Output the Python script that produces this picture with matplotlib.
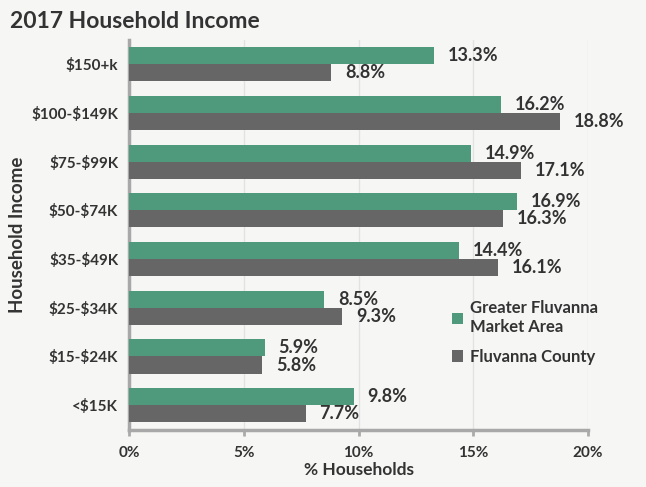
import matplotlib

matplotlib.use("Agg")
import matplotlib.pyplot as plt
import numpy as np

categorias = ["$150+k", "$100-$149K", "$75-$99K", "$50-$74K",
              "$35-$49K", "$25-$34K", "$15-$24K", "<$15K"]
mercado = [13.3, 16.2, 14.9, 16.9, 14.4, 8.5, 5.9, 9.8]
condado = [8.8, 18.8, 17.1, 16.3, 16.1, 9.3, 5.8, 7.7]
ticks_x = [0, 5, 10, 15, 20]

VERDE = "#4f9a7c"
CINZA = "#666666"
TEXTO = "#333333"
FUNDO = "#f6f6f4"

plt.rcParams["font.family"] = ["Lato", "DejaVu Sans"]
plt.rcParams["font.weight"] = "bold"

fig = plt.figure(figsize=(6.46, 4.87), dpi=100, facecolor=FUNDO)
ax = fig.add_axes([0.2, 0.118, 0.71, 0.8], facecolor=FUNDO)

y = np.arange(len(categorias))
h = 0.35
ax.barh(y - h / 2, mercado, height=h, color=VERDE, label="Greater Fluvanna\nMarket Area", zorder=3)
ax.barh(y + h / 2, condado, height=h, color=CINZA, label="Fluvanna County", zorder=3)

# rótulos de valor centrados em cada barra
for deslocamento, serie in [(-h / 2, mercado), (h / 2, condado)]:
    for yi, v in zip(y, serie):
        ax.text(v + 0.6, yi + deslocamento, f"{v:.1f}%", va="center", ha="left",
                fontsize=13, fontweight="bold", color=TEXTO)

ax.set_ylim(len(categorias) - 0.5, -0.5)
ax.set_xlim(0, 20)
ax.set_yticks(y)
# o "$" precisa de escape para não virar mathtext
ax.set_yticklabels([c.replace("$", r"\$") for c in categorias],
                   fontsize=11, fontweight="bold", color=TEXTO)
ax.set_xticks(ticks_x)
ax.set_xticklabels([f"{t}%" for t in ticks_x], fontsize=11, fontweight="bold", color=TEXTO)
ax.tick_params(axis="y", length=0, pad=8)
ax.tick_params(axis="x", length=4, width=2, color="#aaaaaa", pad=8)

ax.grid(axis="x", color="#e2e2e2", linewidth=1, zorder=0)
for lado in ["top", "right"]:
    ax.spines[lado].set_visible(False)
for lado in ["left", "bottom"]:
    ax.spines[lado].set_color("#a8a8a8")
    ax.spines[lado].set_linewidth(2.5)

ax.set_xlabel("% Households", fontsize=12.5, fontweight="bold", color=TEXTO, labelpad=1)
ax.set_ylabel("Household Income", fontsize=13.5, fontweight="bold", color=TEXTO, labelpad=4)

ax.legend(loc="upper left", bbox_to_anchor=(0.67, 0.37), frameon=False,
          handlelength=0.7, handleheight=0.7, handletextpad=0.4,
          labelspacing=0.85, labelcolor=TEXTO, prop={"weight": "bold", "size": 12})

fig.text(0.015, 0.955, "2017 Household Income", fontsize=16.5, fontweight="bold",
         color=TEXTO, va="center", ha="left")

fig.savefig("out.png", dpi=100, facecolor=FUNDO)
